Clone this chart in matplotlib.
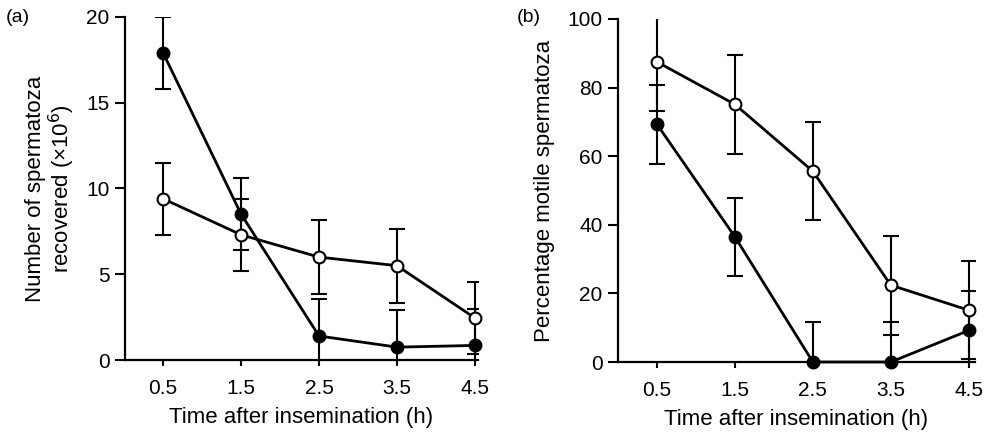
from matplotlib import pyplot as plt

# Time points (h)
hours = [0.5, 1.5, 2.5, 3.5, 4.5]
hour_labels = ["0.5", "1.5", "2.5", "3.5", "4.5"]

# (a) number of spermatozoa recovered (x10^6)
count_filled = [17.9, 8.5, 1.4, 0.75, 0.85]
count_filled_err = [2.1, 2.1, 2.15, 2.15, 2.1]
count_open = [9.4, 7.3, 6.0, 5.5, 2.45]
count_open_err = [2.1, 2.1, 2.15, 2.15, 2.1]
count_ticks = [0, 5, 10, 15, 20]

# (b) percentage motile spermatozoa
motile_filled = [69.3, 36.5, 0.0, 0.0, 9.2]
motile_filled_err = [11.6, 11.4, 11.6, 11.6, 11.4]
motile_open = [87.5, 75.1, 55.6, 22.4, 15.1]
motile_open_err = [14.3, 14.5, 14.3, 14.4, 14.3]
motile_ticks = [0, 20, 40, 60, 80, 100]

plt.rcParams['font.family'] = ['Liberation Sans', 'DejaVu Sans']
plt.rcParams['font.size'] = 15

"""
Draws one panel: two series (filled and open circles) with error bars
"""
def panel(ax, filled, filled_err, opened, opened_err, ticks, xlim):
	for y, err, face in [(filled, filled_err, 'black'), (opened, opened_err, 'white')]:
		# error bars stay inside the axes, the points and lines do not get cut at 0
		ax.errorbar(hours, y, yerr=err, fmt='none', ecolor='black',
			elinewidth=1.5, capsize=6, capthick=1.5)
		ax.plot(hours, y, color='black', lw=2, marker='o', ms=8.5,
			mfc=face, mec='black', mew=1.5, clip_on=False, zorder=3)

	ax.set_xlim(*xlim)
	ax.set_ylim(ticks[0], ticks[-1])
	ax.set_xticks(hours)
	ax.set_xticklabels(hour_labels)
	ax.set_yticks(ticks)
	ax.spines['top'].set_visible(False)
	ax.spines['right'].set_visible(False)
	ax.spines['left'].set_linewidth(1.6)
	ax.spines['bottom'].set_linewidth(1.6)
	ax.tick_params(axis='x', direction='out', length=4.5, width=1.5, labelsize=15, pad=9)
	ax.tick_params(axis='y', direction='out', length=7, width=1.5, labelsize=15, pad=4)
	ax.set_xlabel("Time after insemination (h)", fontsize=16, labelpad=7)

def main():
	fig = plt.figure(figsize=(9.91, 4.33), dpi=100)

	ax_a = fig.add_axes([125/991, 1 - 360/433, 353/991, 343/433])
	panel(ax_a, count_filled, count_filled_err, count_open, count_open_err, count_ticks, (0.01, 4.54))
	ax_a.set_ylabel("Number of spermatoza\nrecovered (\u00d710$^6$)", fontsize=16, labelpad=7, linespacing=1.0)

	ax_b = fig.add_axes([618/991, 1 - 362/433, 357/991, 343/433])
	panel(ax_b, motile_filled, motile_filled_err, motile_open, motile_open_err, motile_ticks, (0.0, 4.58))
	ax_b.set_ylabel("Percentage motile spermatoza", fontsize=16, labelpad=9)

	fig.text(6/991, 1 - 18/433, "(a)", fontsize=14, va='center')
	fig.text(517/991, 1 - 18/433, "(b)", fontsize=14, va='center')

	fig.savefig("out.png", dpi=100)

if __name__ == '__main__':
	main()
